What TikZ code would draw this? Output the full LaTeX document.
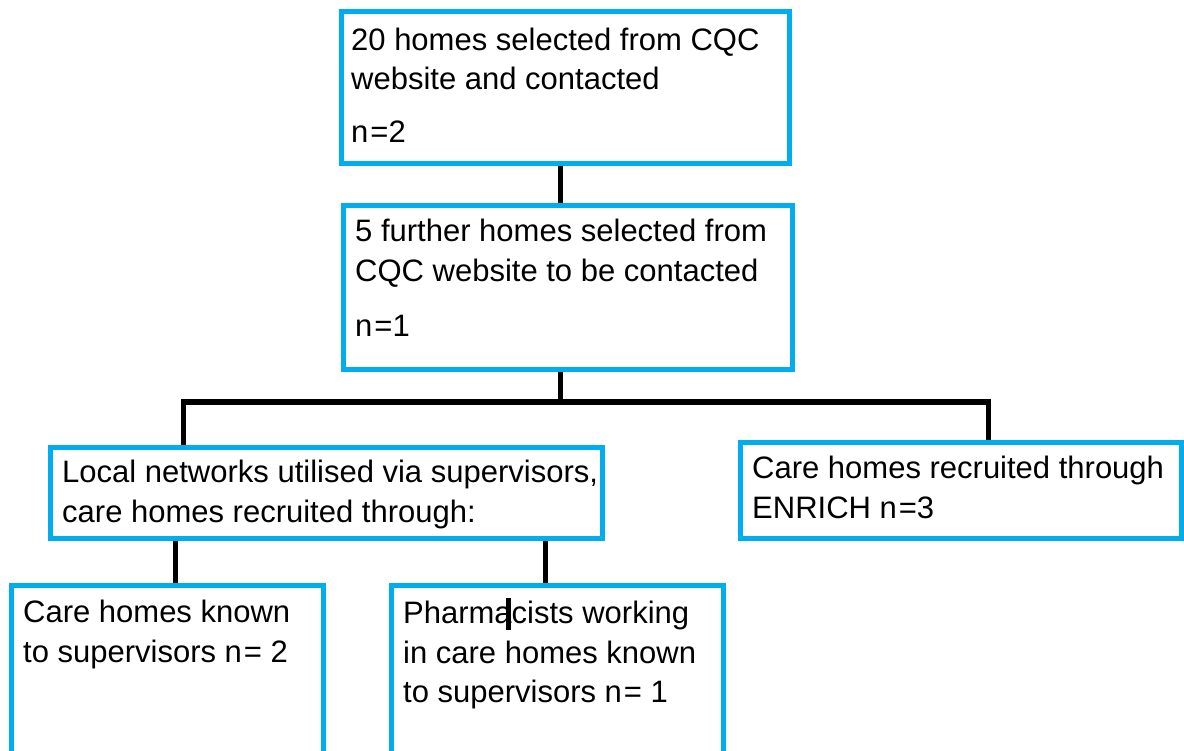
\documentclass[tikz,border=0pt]{standalone}
\usepackage{fontspec}
\setmainfont{Liberation Sans}
\usetikzlibrary{backgrounds}
\definecolor{boxblue}{RGB}{0,174,239}
\newcommand{\eqgap}{\kern2pt}
\begin{document}
\begin{tikzpicture}[x=1pt,y=-1pt,
  stage/.style={draw=boxblue,line width=5pt,rectangle,inner sep=0pt,outer sep=0pt,anchor=north west},
  label/.style={anchor=base west,inner sep=0pt,font=\fontsize{31}{40}\selectfont},
  link/.style={draw=black,line width=5pt}]
\useasboundingbox (0,0) rectangle (1184,751);

% boxes (positions give the centre line of the blue border)
\node[stage,minimum width=448pt,minimum height=152pt] (b1) at (341.5,11.5) {};
\node[stage,minimum width=449pt,minimum height=164pt] (b2) at (343.5,205.5) {};
\node[stage,minimum width=552pt,minimum height=91pt]  (b3) at (50.5,447.5) {};
\node[stage,minimum width=441pt,minimum height=96pt]  (b4) at (740.5,442.5) {};
\node[stage,minimum width=312pt,minimum height=190pt] (b5) at (11.5,585.5) {};
\node[stage,minimum width=332pt,minimum height=190pt] (b6) at (391.5,585.5) {};

% junction points of the tree
\coordinate (c1) at (560,0);
\coordinate (j)  at (560,402);
\coordinate (jl) at (183,402);
\coordinate (jr) at (988,402);
\coordinate (d5) at (175,0);
\coordinate (d6) at (545,0);

\begin{scope}[on background layer]
\fill[white] (0,0) rectangle (1184,751);
\draw[link] (b1.south -| c1) -- (b2.north -| c1);
\draw[link] (b2.south -| j) -- (j);
\draw[link,line join=miter] (b3.north -| jl) -- (jl) -- (jr) -- (b4.north -| jr);
\draw[link] (b3.south -| d5) -- (b5.north -| d5);
\draw[link] (b3.south -| d6) -- (b6.north -| d6);
\end{scope}

% texts
\node[label] (t1a) at (351,51) {20 homes selected from CQC};
\node[label] (t1b) at (351,90) {website and contacted};
\node[label] (t1c) at (351,143) {n\eqgap=2};

\node[label] (t2a) at (355,242) {5 further homes selected from};
\node[label] (t2b) at (355,282) {CQC website to be contacted};
\node[label] (t2c) at (355,337) {n\eqgap=1};

\node[label] (t3a) at (62,482) {Local networks utilised via supervisors,};
\node[label] (t3b) at (62,522) {care homes recruited through:};

\node[label] (t4a) at (752,478) {Care homes recruited through};
\node[label] (t4b) at (752,518) {ENRICH n\eqgap=3};

\node[label] (t5a) at (23,622) {Care homes known};
\node[label] (t5b) at (23,662) {to supervisors n\eqgap= 2};

\node[label] (t6a) at (403,623) {Pharmacists working};
\node[label] (t6b) at (403,663) {in care homes known};
\node[label] (t6c) at (403,702) {to supervisors n\eqgap= 1};

% text cursor mark
\draw[line width=5pt] (508.5,598) -- (508.5,630);
\end{tikzpicture}
\end{document}
